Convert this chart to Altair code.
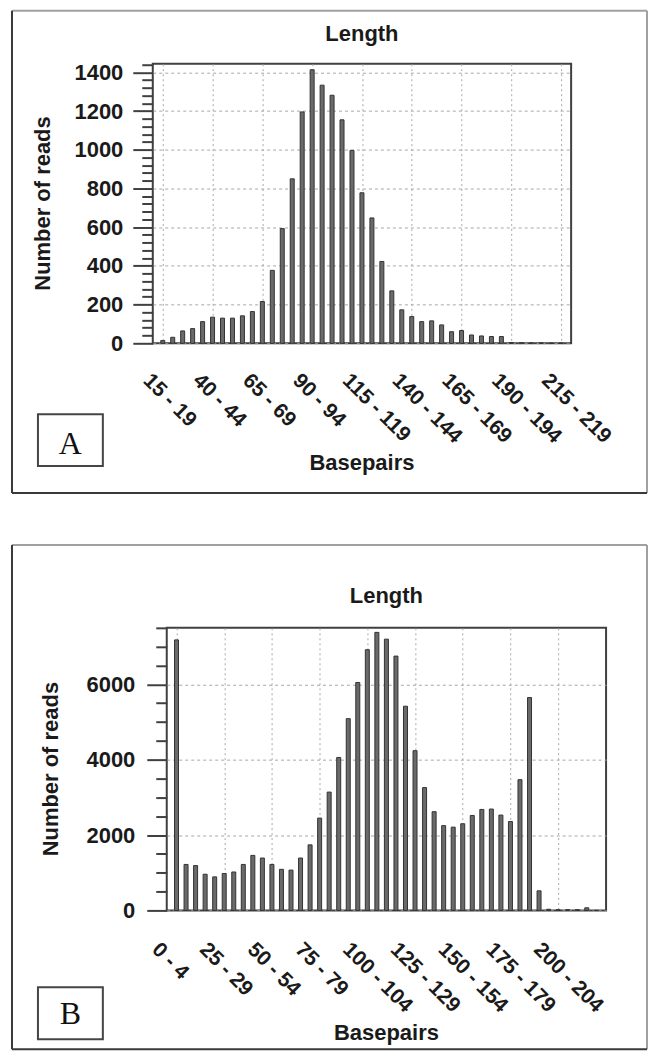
import altair as alt
import pandas as pd

# ---------------- data ----------------
bins_a = [f"{s} - {s + 4}" for s in range(15, 216, 5)]          # 41 bins
counts_a = [14, 31, 64, 76, 112, 135, 130, 130, 142, 164,
            216, 377, 593, 850, 1196, 1414, 1334, 1282, 1155, 997,
            778, 648, 423, 271, 173, 138, 112, 116, 95, 60,
            66, 43, 38, 35, 35, 4, 3, 2, 2, 1, 1]

bins_b = [f"{s} - {s + 4}" for s in range(0, 221, 5)]           # 45 bins
counts_b = [7180, 1220, 1190, 960, 890, 980, 1020, 1220, 1460, 1390,
            1220, 1090, 1070, 1390, 1740, 2450, 3140, 4060, 5090, 6050,
            6920, 7380, 7200, 6750, 5420, 4240, 3260, 2620, 2250, 2210,
            2300, 2520, 2680, 2690, 2530, 2360, 3470, 5650, 520, 30,
            20, 20, 20, 70, 0]

label_idx = [0, 5, 10, 15, 20, 25, 30, 35, 40]

FONT = "Liberation Sans"
SERIF = "Liberation Serif"
TXT = "#1a1a1a"
AX = "#404040"
GRID = "#a8a8a8"
BAR = "#6a6a6a"
BAR_EDGE = "#333333"
BOX_DARK = "#3a3a3a"
BOX_LIGHT = "#a0a0a0"


def panel(bins, counts, ymax, ystep, ymajor, letter, g):
    n = len(bins)
    df = pd.DataFrame({"i": list(range(n)), "bin": bins, "count": counts})
    lab_js = "[" + ",".join(f"'{b}'" for b in bins) + "][datum.value]"
    major = f"datum.value % {ymajor} === 0"

    x = alt.X(
        "i:Q",
        scale=alt.Scale(domain=[-0.5, n - 0.5], nice=False, zero=False),
        axis=alt.Axis(
            values=label_idx, labelExpr=lab_js, title=None,
            ticks=False, domain=False,
            grid=True, gridColor=GRID, gridDash=[2, 3], gridWidth=1,
            labelAngle=45, labelAlign="left", labelBaseline="top",
            labelPadding=g["lpad"], labelOffset=g["loff"],
            labelFont=FONT, labelFontSize=21, labelFontWeight="bold",
            labelColor=TXT, labelFlush=False, labelOverlap=False,
            labelBound=False,
        ),
    )
    y = alt.Y(
        "count:Q",
        scale=alt.Scale(domain=[0, ymax], nice=False),
        axis=alt.Axis(
            values=list(range(0, ymax + 1, ystep)), format="d",
            labelExpr=f"{major} ? datum.label : ''", title=None,
            domain=False, ticks=True, tickColor=AX, tickWidth=2,
            tickSize={"condition": {"test": major, "value": 20}, "value": 11},
            grid=True, gridColor=GRID, gridDash=[3, 3], gridWidth=1,
            gridOpacity={"condition": {"test": major, "value": 1}, "value": 0},
            labelPadding=g["ypad"], labelFont=FONT, labelFontSize=22,
            labelFontWeight="bold", labelColor=TXT,
            labelOverlap=False, labelFlush=False,
        ),
    )
    bars = alt.Chart(df).mark_bar(
        size=4, color=BAR, stroke=BAR_EDGE, strokeWidth=1
    ).encode(x=x, y=y)

    dec = alt.Chart(pd.DataFrame({"k": [0]}))
    L, R, T, B = g["box"]
    top = dec.mark_rule(color=BOX_LIGHT, strokeWidth=2).encode(
        x=alt.value(L), x2=alt.value(R), y=alt.value(T))
    right = dec.mark_rule(color=BOX_LIGHT, strokeWidth=2).encode(
        x=alt.value(R), y=alt.value(T), y2=alt.value(B))
    left = dec.mark_rule(color=BOX_DARK, strokeWidth=2).encode(
        x=alt.value(L), y=alt.value(T), y2=alt.value(B))
    bottom = dec.mark_rule(color=BOX_DARK, strokeWidth=2).encode(
        x=alt.value(L), x2=alt.value(R), y=alt.value(B))

    lx1, lx2, ly1, ly2 = g["lbox"]
    lbox = dec.mark_rect(fill="white", stroke="#454545", strokeWidth=2).encode(
        x=alt.value(lx1), x2=alt.value(lx2), y=alt.value(ly1), y2=alt.value(ly2))
    ltxt = dec.mark_text(
        text=letter, font=SERIF, fontSize=32, color="#111", align="center",
        baseline="alphabetic").encode(x=alt.value(g["letter"][0]), y=alt.value(g["letter"][1]))

    title = dec.mark_text(
        text="Length", font=FONT, fontSize=22, fontWeight="bold", color=TXT,
        align="center", baseline="alphabetic").encode(
        x=alt.value(g["title"][0]), y=alt.value(g["title"][1]))
    ytitle = dec.mark_text(
        text="Number of reads", font=FONT, fontSize=22, fontWeight="bold",
        color=TXT, angle=270, align="center", baseline="middle").encode(
        x=alt.value(g["ytitle"][0]), y=alt.value(g["ytitle"][1]))
    xtitle = dec.mark_text(
        text="Basepairs", font=FONT, fontSize=22, fontWeight="bold",
        color=TXT, align="center", baseline="middle").encode(
        x=alt.value(g["xtitle"][0]), y=alt.value(g["xtitle"][1]))

    body = alt.layer(
        top, right, left, bottom, bars, lbox, ltxt, title, ytitle, xtitle
    ).properties(width=g["W"], height=g["H"])

    # tiny invisible spacer so that each panel is placed by its outer box
    spacer = dec.mark_point(size=1, opacity=0).encode(
        x=alt.value(0), y=alt.value(0)
    ).properties(width=1, height=1,
                 view=alt.ViewBackground(stroke="transparent", strokeOpacity=0))
    return alt.hconcat(spacer, body, spacing=0)


geo_a = dict(W=419, H=280, box=(-141, 495, -53, 430), lbox=(-115, -50, 351, 403),
             letter=(-82.5, 391), title=(209.5, -23), ytitle=(-110, 140),
             xtitle=(209.5, 400), lpad=26, loff=-9, ypad=10)
geo_b = dict(W=440, H=283, box=(-155, 481, -83, 422), lbox=(-129, -64, 360, 412),
             letter=(-96.5, 397), title=(220, -25), ytitle=(-115.5, 141.5),
             xtitle=(220, 406), lpad=28, loff=-14, ypad=12)

chart_a = panel(bins_a, counts_a, 1445, 40, 200, "A", geo_a)
chart_b = panel(bins_b, counts_b, 7500, 500, 2000, "B", geo_b)

chart = alt.vconcat(chart_a, chart_b, spacing=48).properties(
    padding=0, background="white"
).configure_view(stroke=AX, strokeWidth=2)

chart.save("out.html", embed_options={"renderer": "svg", "actions": False})
